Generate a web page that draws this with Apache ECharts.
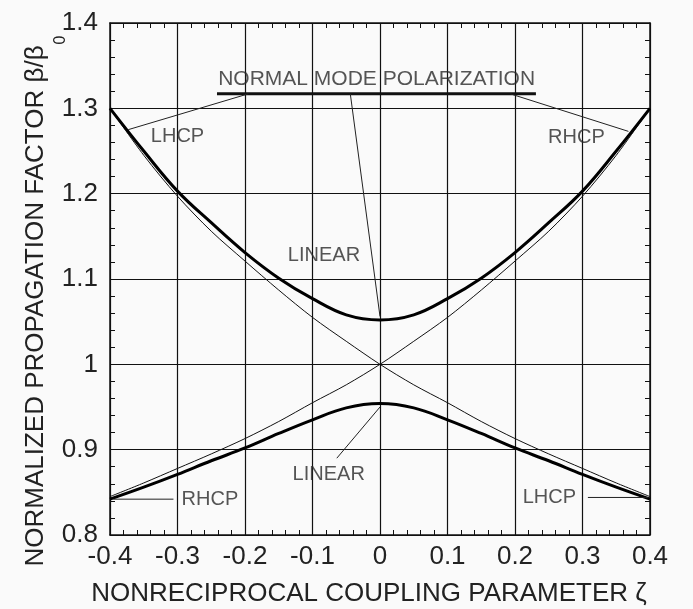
<!DOCTYPE html>
<html>
<head>
<meta charset="utf-8">
<script src="https://cdn.jsdelivr.net/npm/echarts@6/dist/echarts.min.js"></script>
<style>
html,body{margin:0;padding:0;background:#fafafa;}
#chart{width:693px;height:609px;}
</style>
</head>
<body>
<div id="chart"></div>
<script>
// ---- data ----
const zeta = [-0.4, -0.35, -0.3, -0.25, -0.2, -0.15, -0.1, -0.05, 0, 0.05, 0.1, 0.15, 0.2, 0.25, 0.3, 0.35, 0.4];
const upperCoupled = [1.300, 1.250, 1.203, 1.166, 1.131, 1.101, 1.077, 1.058, 1.052, 1.058, 1.077, 1.101, 1.131, 1.166, 1.203, 1.250, 1.300];
const lowerCoupled = [0.842, 0.856, 0.871, 0.887, 0.902, 0.919, 0.935, 0.949, 0.954, 0.949, 0.935, 0.919, 0.902, 0.887, 0.871, 0.856, 0.842];
const uncoupledA = [1.300, 1.245, 1.197, 1.156, 1.121, 1.087, 1.055, 1.027, 1.000, 0.976, 0.955, 0.933, 0.913, 0.895, 0.878, 0.861, 0.845];
const uncoupledB = [0.845, 0.861, 0.878, 0.895, 0.913, 0.933, 0.955, 0.976, 1.000, 1.027, 1.055, 1.087, 1.121, 1.156, 1.197, 1.245, 1.300];

const xTicks = [-0.4, -0.3, -0.2, -0.1, 0, 0.1, 0.2, 0.3, 0.4];
const yTicks = [0.8, 0.9, 1.0, 1.1, 1.2, 1.3, 1.4];

const labelTexts = ['NORMAL MODE POLARIZATION', 'LINEAR', 'LINEAR', 'LHCP', 'RHCP', 'RHCP', 'LHCP'];
const labelZeta  = [-0.005, -0.083, -0.076, -0.300, 0.291, -0.252, 0.251];
const labelValue = [1.334, 1.127, 0.871, 1.267, 1.266, 0.842, 0.844];

const leaderZeta  = [[-0.195, -0.373], [0.193, 0.368], [-0.044, 0], [-0.064, 0], [-0.395, -0.306], [0.308, 0.397]];
const leaderValue = [[1.317, 1.275], [1.317, 1.273], [1.317, 1.056], [0.890, 0.950], [0.842, 0.842], [0.844, 0.844]];
const underlineZeta = [-0.2415, 0.231];
const underlineValue = [1.317, 1.317];

// ---- chart ----
const pairs = (xs, ys) => xs.map((x, i) => [x, ys[i]]);
const axisColor = '#111';
const fontFam = '"Liberation Sans", Arial, Helvetica, sans-serif';

const baseX = {
  type: 'value', min: xTicks[0], max: xTicks[xTicks.length - 1], interval: 0.1,
  axisLine: { show: true, onZero: false, lineStyle: { color: axisColor, width: 1.5 } },
  axisTick: { show: true, inside: true, length: 5, lineStyle: { color: axisColor } },
  minorTick: { show: true, splitNumber: 5, length: 5, lineStyle: { color: axisColor } },
  splitLine: { show: true, lineStyle: { color: axisColor, width: 1.2 } }
};
const baseY = {
  type: 'value', min: yTicks[0], max: yTicks[yTicks.length - 1], interval: 0.1,
  axisLine: { show: true, onZero: false, lineStyle: { color: axisColor, width: 1.5 } },
  axisTick: { show: true, inside: true, length: 5, lineStyle: { color: axisColor } },
  minorTick: { show: true, splitNumber: 5, length: 5, lineStyle: { color: axisColor } },
  splitLine: { show: true, lineStyle: { color: axisColor, width: 1.2 } }
};

const series = [
  { type: 'line', data: pairs(zeta, uncoupledA), smooth: 0.3, showSymbol: false, lineStyle: { color: '#111', width: 1 }, z: 3 },
  { type: 'line', data: pairs(zeta, uncoupledB), smooth: 0.3, showSymbol: false, lineStyle: { color: '#111', width: 1 }, z: 3 },
  { type: 'line', data: pairs(zeta, upperCoupled), smooth: 0.4, showSymbol: false, lineStyle: { color: '#000', width: 3 }, z: 4 },
  { type: 'line', data: pairs(zeta, lowerCoupled), smooth: 0.4, showSymbol: false, lineStyle: { color: '#000', width: 3 }, z: 4 },
  { type: 'line', data: pairs(underlineZeta, underlineValue), showSymbol: false, lineStyle: { color: '#111', width: 3 }, z: 5 }
];
leaderZeta.forEach((xs, i) => {
  series.push({ type: 'line', data: pairs(xs, leaderValue[i]), showSymbol: false, lineStyle: { color: '#222', width: 1 }, z: 5 });
});
series.push({
  type: 'scatter', symbolSize: 0, z: 6,
  data: labelTexts.map((t, i) => ({
    value: [labelZeta[i], labelValue[i]],
    label: { show: true, position: 'inside', formatter: t, fontSize: i === 0 ? 21 : 20, color: '#2a2a2a', fontFamily: fontFam }
  }))
});

const chart = echarts.init(document.getElementById('chart'), null, { renderer: 'canvas' });
chart.setOption({
  animation: false,
  backgroundColor: '#fafafa',
  grid: { left: 110, right: 43, top: 23, bottom: 74, containLabel: false, outerBoundsMode: 'none' },
  xAxis: [
    Object.assign({}, baseX, {
      position: 'bottom',
      axisLabel: { show: true, fontSize: 26, color: '#222', margin: 9, fontFamily: fontFam },
      name: 'NONRECIPROCAL COUPLING PARAMETER ζ', nameLocation: 'middle', nameGap: 46, nameMoveOverlap: false,
      nameTextStyle: { fontSize: 26, color: '#222', fontFamily: fontFam, padding: [0, 22, 0, 0] }
    }),
    Object.assign({}, baseX, { position: 'top', axisLabel: { show: false }, splitLine: { show: false } })
  ],
  yAxis: [
    Object.assign({}, baseY, {
      position: 'left',
      axisLabel: { show: true, fontSize: 26, color: '#222', margin: 12, fontFamily: fontFam },
      name: '{m|NORMALIZED PROPAGATION FACTOR β/β}{s|0}', nameLocation: 'middle', nameGap: 11, nameRotate: 90,
      nameMoveOverlap: false,
      nameTextStyle: {
        color: '#222', fontFamily: fontFam, padding: [0, 44, 0, 0],
        rich: {
          m: { fontSize: 26, lineHeight: 26, verticalAlign: 'top', color: '#222', fontFamily: fontFam },
          s: { fontSize: 16, lineHeight: 76, padding: [0, 0, 0, 1], color: '#222', fontFamily: fontFam }
        }
      }
    }),
    Object.assign({}, baseY, { position: 'right', axisLabel: { show: false }, splitLine: { show: false } })
  ],
  series: series
});
</script>
</body>
</html>
